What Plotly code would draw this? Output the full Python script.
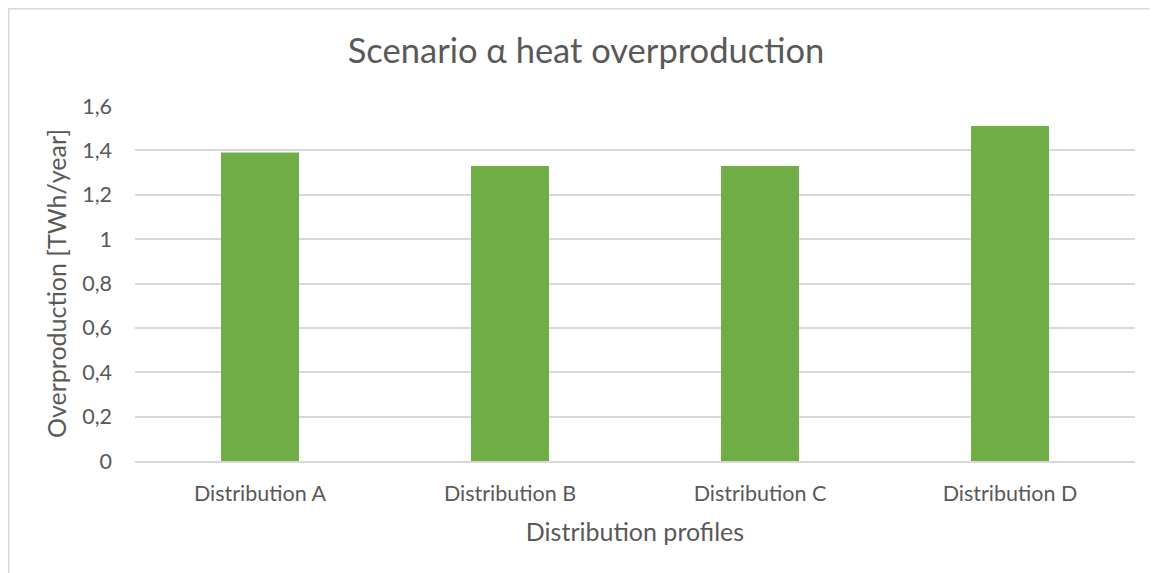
import plotly.graph_objects as go

# data
profiles = ["Distribution A", "Distribution B", "Distribution C", "Distribution D"]
overproduction = [1.39, 1.33, 1.33, 1.51]
y_ticks = [0, 0.2, 0.4, 0.6, 0.8, 1, 1.2, 1.4, 1.6]

# page is shown with an 8px body offset, so layout is in figure pixels
W, H = 1158, 573
L, R, T, B = 127, 31, 98, 120
pw, ph = W - L - R, H - T - B

def px(x):
    return (x - L) / pw

def py(y):
    return (H - B - y) / ph

fig = go.Figure()
fig.add_trace(go.Bar(x=profiles, y=overproduction, marker_color="#70AD47",
                     marker_line_width=0))

grey = "#595959"
fnt = "Lato"

fig.update_layout(
    width=W, height=H,
    margin=dict(l=L, r=R, t=T, b=B),
    paper_bgcolor="white", plot_bgcolor="white",
    separators=",.",
    bargap=0.688,
    showlegend=False,
    font=dict(family=fnt, color=grey),
    title=dict(text="Scenario α heat overproduction", xref="container", x=578 / W,
               xanchor="center", yref="container", y=1 - 43 / H, yanchor="middle",
               font=dict(size=34.5, color=grey, family=fnt)),
    xaxis=dict(tickfont=dict(size=21.5, color=grey), showgrid=False,
               showline=True, linecolor="#D9D9D9", linewidth=1.5, ticks="",
               ticklabelstandoff=12,
               title=dict(text="Distribution profiles", standoff=19,
                          font=dict(size=25, color=grey))),
    yaxis=dict(range=[0, 1.6], tickvals=y_ticks, tickfont=dict(size=21.5, color=grey),
               gridcolor="#D9D9D9", gridwidth=1.5, zeroline=False, showline=False,
               ticks="", ticklabelstandoff=22,
               title=dict(text="Overproduction [TWh/year]", standoff=8,
                          font=dict(size=25, color=grey))),
    shapes=[dict(type="rect", xref="paper", yref="paper",
                 x0=px(0.75), x1=px(W + 20), y0=py(H + 20), y1=py(0.75),
                 line=dict(color="#D9D9D9", width=1.5), layer="below")],
)

fig.write_html("out.html")
